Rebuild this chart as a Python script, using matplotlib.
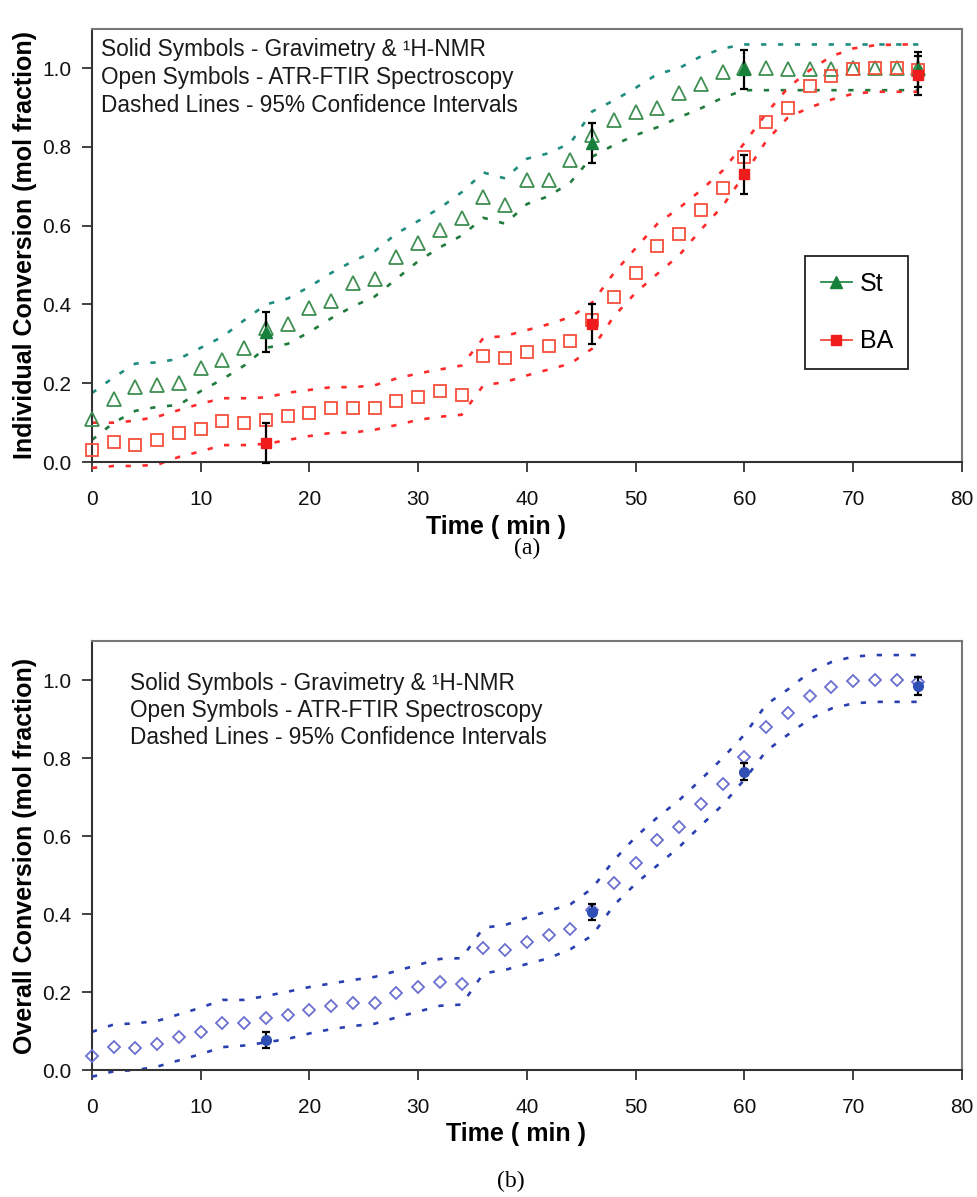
"""
Individual (St, BA) and overall conversion vs. time:
gravimetry/1H-NMR points, ATR-FTIR points and 95% confidence bands.
"""
import matplotlib
matplotlib.use('Agg')
import matplotlib.pyplot as plt
from matplotlib.lines import Line2D
import numpy as np

plt.rcParams['font.family'] = ['Liberation Sans', 'DejaVu Sans']

# ATR-FTIR sampling times (min)
t_ftir = np.arange(0, 78, 2)

# (a) individual conversion, ATR-FTIR
st_ftir = [0.11, 0.16, 0.19, 0.195, 0.20, 0.24, 0.26, 0.29, 0.34, 0.35,
           0.39, 0.41, 0.455, 0.465, 0.52, 0.555, 0.589, 0.619, 0.673, 0.652,
           0.716, 0.716, 0.766, 0.83, 0.868, 0.888, 0.90, 0.936, 0.96, 0.99,
           1.0, 1.0, 0.997, 0.997, 0.997, 1.0, 1.0, 1.0, 1.0]
ba_ftir = [0.03, 0.051, 0.043, 0.056, 0.073, 0.084, 0.104, 0.099, 0.107, 0.117,
           0.124, 0.137, 0.137, 0.138, 0.155, 0.165, 0.18, 0.17, 0.27, 0.264,
           0.28, 0.294, 0.307, 0.36, 0.42, 0.48, 0.548, 0.578, 0.64, 0.695,
           0.775, 0.863, 0.90, 0.954, 0.98, 0.998, 1.0, 1.0, 0.995]

# (a) 95% confidence bands
st_upper = [0.175, 0.215, 0.25, 0.253, 0.262, 0.29, 0.318, 0.36, 0.40, 0.415,
            0.445, 0.48, 0.51, 0.535, 0.58, 0.612, 0.645, 0.685, 0.735, 0.72,
            0.77, 0.784, 0.81, 0.89, 0.918, 0.95, 0.985, 1.0, 1.03, 1.05,
            1.06, 1.06, 1.06, 1.06, 1.06, 1.06, 1.06, 1.06, 1.06]
st_lower = [0.056, 0.10, 0.13, 0.14, 0.145, 0.18, 0.21, 0.245, 0.29, 0.30,
            0.33, 0.365, 0.395, 0.42, 0.465, 0.51, 0.545, 0.575, 0.62, 0.605,
            0.655, 0.675, 0.71, 0.775, 0.805, 0.83, 0.85, 0.875, 0.898, 0.925,
            0.944, 0.944, 0.944, 0.944, 0.944, 0.944, 0.944, 0.944, 0.944]
ba_upper = [0.10, 0.10, 0.105, 0.115, 0.132, 0.148, 0.162, 0.162, 0.164, 0.176,
            0.183, 0.19, 0.19, 0.195, 0.212, 0.225, 0.235, 0.245, 0.315, 0.32,
            0.335, 0.35, 0.368, 0.405, 0.48, 0.543, 0.605, 0.645, 0.69, 0.74,
            0.81, 0.885, 0.95, 0.995, 1.03, 1.05, 1.058, 1.06, 1.06]
ba_lower = [-0.015, -0.01, -0.01, -0.007, 0.013, 0.027, 0.043, 0.043, 0.046, 0.056,
            0.066, 0.074, 0.075, 0.082, 0.094, 0.107, 0.115, 0.12, 0.195, 0.203,
            0.22, 0.235, 0.25, 0.288, 0.37, 0.43, 0.478, 0.525, 0.59, 0.65,
            0.73, 0.815, 0.875, 0.90, 0.92, 0.935, 0.94, 0.94, 0.94]

# (a) gravimetry & 1H-NMR
t_grav = [16, 46, 60, 76]
st_grav = [0.33, 0.81, 0.997, 0.997]
st_err = [0.05, 0.05, 0.05, 0.045]
ba_grav = [0.048, 0.35, 0.73, 0.982]
ba_err = [0.05, 0.05, 0.05, 0.05]

# (b) overall conversion
ov_ftir = [0.036, 0.058, 0.056, 0.068, 0.085, 0.098, 0.12, 0.12, 0.133, 0.141,
           0.154, 0.165, 0.172, 0.173, 0.197, 0.212, 0.227, 0.222, 0.314, 0.309,
           0.329, 0.346, 0.361, 0.41, 0.479, 0.53, 0.591, 0.622, 0.681, 0.733,
           0.802, 0.88, 0.915, 0.96, 0.982, 0.997, 1.0, 1.0, 0.995]
ov_upper = [0.098, 0.117, 0.12, 0.126, 0.143, 0.16, 0.18, 0.18, 0.19, 0.201,
            0.213, 0.222, 0.231, 0.239, 0.254, 0.27, 0.285, 0.287, 0.365, 0.372,
            0.391, 0.408, 0.425, 0.466, 0.538, 0.598, 0.648, 0.692, 0.745, 0.80,
            0.86, 0.937, 0.976, 1.02, 1.046, 1.06, 1.064, 1.064, 1.064]
ov_lower = [-0.017, -0.003, 0.0, 0.009, 0.025, 0.041, 0.059, 0.063, 0.071, 0.08,
            0.094, 0.105, 0.113, 0.119, 0.135, 0.15, 0.165, 0.168, 0.248, 0.257,
            0.272, 0.287, 0.31, 0.345, 0.423, 0.478, 0.525, 0.572, 0.627, 0.68,
            0.745, 0.818, 0.86, 0.90, 0.927, 0.94, 0.944, 0.944, 0.944]
ov_grav = [0.077, 0.405, 0.765, 0.984]
ov_err = [0.02, 0.021, 0.022, 0.023]

NOTE = ('Solid Symbols - Gravimetry & \u00b9H-NMR\n'
        'Open Symbols - ATR-FTIR Spectroscopy\n'
        'Dashed Lines - 95% Confidence Intervals')

DASH = (0, (2.0, 4.4))


def style_axes(ax, ylabel, xlab_x):
    ax.set_xlim(0, 80)
    ax.set_ylim(0, 1.1)
    ax.set_xticks(np.arange(0, 81, 10))
    ax.set_yticks(np.arange(0, 1.01, 0.2))
    ax.set_yticklabels([f'{v:.1f}' for v in np.arange(0, 1.01, 0.2)])
    ax.tick_params(axis='both', direction='out', length=7, width=1.3,
                   labelsize=15, color='#333333', labelcolor='#111111')
    ax.tick_params(axis='x', pad=13)
    ax.tick_params(axis='y', pad=8)
    for side in ('left', 'bottom'):
        ax.spines[side].set_color('#333333')
        ax.spines[side].set_linewidth(1.5)
    for side in ('top', 'right'):
        ax.spines[side].set_color('#777777')
        ax.spines[side].set_linewidth(1.5)
    ax.set_xlabel('Time ( min )', fontsize=18, fontweight='bold')
    ax.xaxis.set_label_coords(xlab_x, -0.150)
    ax.xaxis.label.set_va('center')
    ax.set_ylabel(ylabel, fontsize=18, fontweight='bold')
    ax.yaxis.set_label_coords(-0.077, 0.5)
    ax.yaxis.label.set_va('center')


def band(ax, t, vals, color):
    ax.plot(t, vals, linestyle=DASH, color=color, lw=1.9,
            clip_on=False, zorder=2)


def grav_points(ax, t, y, err, **kw):
    ax.errorbar(t, y, yerr=err, fmt='none', ecolor='black', elinewidth=1.6,
                capsize=3, capthick=1.6, clip_on=False, zorder=5)
    ax.plot(t, y, linestyle='none', clip_on=False, zorder=6, **kw)


fig = plt.figure(figsize=(9.78, 11.97), dpi=100)

# ---- (a) individual conversion ----
ax1 = fig.add_axes([0.094, 0.614, 0.8896, 0.362])
band(ax1, t_ftir, st_upper, '#1f8c80')
band(ax1, t_ftir, st_lower, '#1f7a3c')
band(ax1, t_ftir, ba_upper, '#ff2a2a')
band(ax1, t_ftir, ba_lower, '#ff2a2a')
ax1.plot(t_ftir, st_ftir, linestyle='none', marker='^', ms=9.5, mfc='none',
         mec='#3f8f52', mew=1.3, clip_on=False, zorder=3)
ax1.plot(t_ftir, ba_ftir, linestyle='none', marker='s', ms=8, mfc='none',
         mec='#f5503c', mew=1.3, clip_on=False, zorder=3)
grav_points(ax1, t_grav, st_grav, st_err, marker='^', ms=9, color='#17803a')
grav_points(ax1, t_grav, ba_grav, ba_err, marker='s', ms=7.5, color='#ee1c1c')
style_axes(ax1, 'Individual Conversion (mol fraction)', 0.464)

ax1.text(0.010, 0.978, NOTE, transform=ax1.transAxes, ha='left', va='top',
         fontsize=16.3, linespacing=1.27, color='#1a1a1a')

handles = [Line2D([], [], color='#2a8a4a', lw=1.3, marker='^', ms=9,
                  mfc='#17803a', mec='#17803a'),
           Line2D([], [], color='#f04a3a', lw=1.3, marker='s', ms=7.5,
                  mfc='#ee1c1c', mec='#ee1c1c')]
leg = ax1.legend(handles, ['St', 'BA'], loc='upper left',
                 bbox_to_anchor=(0.82, 0.475), fontsize=18, frameon=True,
                 fancybox=False, edgecolor='#222222', framealpha=1,
                 handlelength=1.25, handletextpad=0.3, labelspacing=1.35,
                 borderpad=0.62, borderaxespad=0)
leg.get_frame().set_linewidth(1.3)

# ---- (b) overall conversion ----
ax2 = fig.add_axes([0.094, 0.106, 0.8896, 0.3585])
band(ax2, t_ftir, ov_upper, '#2a3fb0')
band(ax2, t_ftir, ov_lower, '#2a3fb0')
ax2.plot(t_ftir, ov_ftir, linestyle='none', marker='D', ms=6.5, mfc='none',
         mec='#6b6fcf', mew=1.3, clip_on=False, zorder=3)
grav_points(ax2, t_grav, ov_grav, ov_err, marker='o', ms=7, color='#2f4fb5')
style_axes(ax2, 'Overall Conversion (mol fraction)', 0.487)

ax2.text(0.044, 0.928, NOTE, transform=ax2.transAxes, ha='left', va='top',
         fontsize=16.3, linespacing=1.22, color='#1a1a1a')

fig.text(527 / 978, 1 - 548 / 1197, '(a)', ha='center', va='center',
         fontsize=17, family=['Liberation Serif', 'DejaVu Serif'])
fig.text(511 / 978, 1 - 1181 / 1197, '(b)', ha='center', va='center',
         fontsize=17, family=['Liberation Serif', 'DejaVu Serif'])

fig.savefig('out.png', dpi=100)
